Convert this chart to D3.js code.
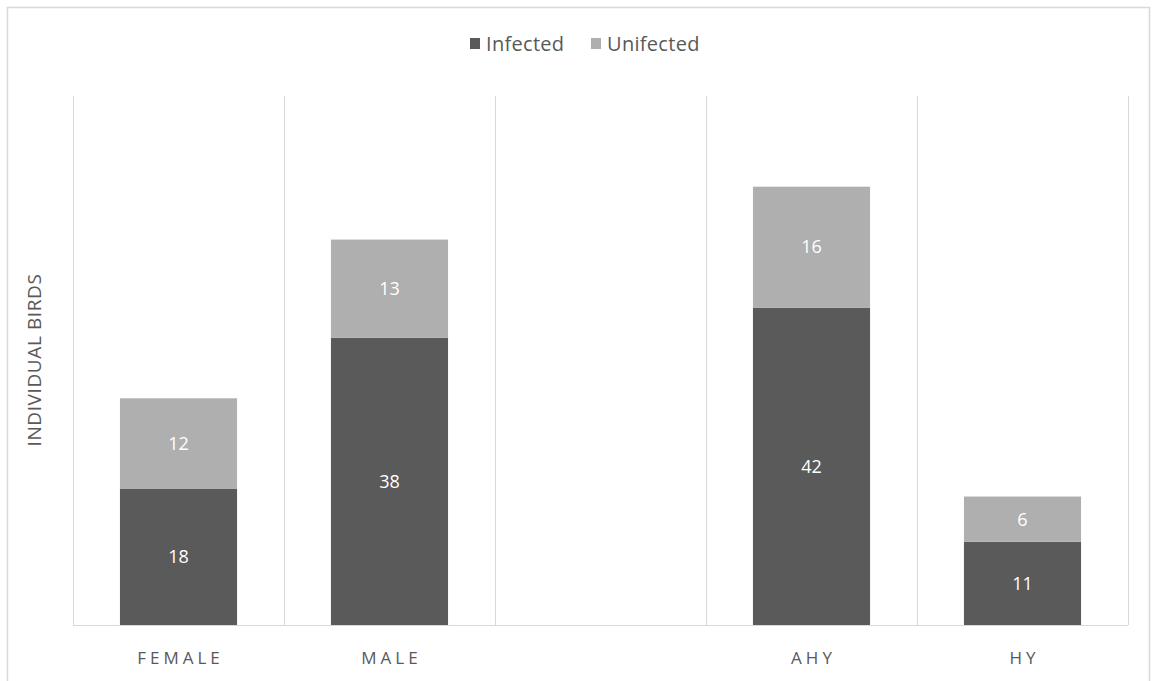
<!DOCTYPE html>
<html>
<head>
<meta charset="utf-8">
<script src="https://cdn.jsdelivr.net/npm/d3@7"></script>
<style>
  html, body { margin: 0; padding: 0; background: #fff; }
  svg { display: block; }
</style>
</head>
<body>
<svg id="chart" width="1153" height="681"></svg>
<script>
// Bird counts by sex and age class
const categories = ["FEMALE", "MALE", "", "AHY", "HY"];
const infected   = [18, 38, null, 42, 11];
const uninfected = [12, 13, null, 16, 6];
const seriesNames = ["Infected", "Unifected"];
const yTitle = "INDIVIDUAL BIRDS";

const colors = { Infected: "#5a5a5a", Unifected: "#afafaf" };
const textColor = "#595959";
const gridColor = "#d9d9d9";
const font = "'Open Sans', 'Noto Sans', sans-serif";

const svg = d3.select("#chart");
const W = 1153, H = 681;
const margin = { left: 73, right: 25, top: 96, bottom: 56 };

// chart frame
svg.append("rect")
  .attr("x", 7.5).attr("y", 7.5)
  .attr("width", W - 11).attr("height", H)
  .attr("fill", "#fff").attr("stroke", gridColor).attr("stroke-width", 1.5);

const x = d3.scaleBand()
  .domain(categories.map((c, i) => i))
  .range([margin.left, W - margin.right])
  .paddingInner(0.445).paddingOuter(0.2225);

const y = d3.scaleLinear().domain([0, 70]).range([H - margin.bottom, margin.top]);

// vertical gridlines at category boundaries
const step = x.step();
const bounds = d3.range(categories.length + 1).map(i => margin.left + i * step);
svg.append("g").selectAll("line").data(bounds).join("line")
  .attr("x1", d => Math.round(d) + 0.5).attr("x2", d => Math.round(d) + 0.5)
  .attr("y1", y(70)).attr("y2", y(0))
  .attr("stroke", gridColor).attr("stroke-width", 1);

// baseline
svg.append("line")
  .attr("x1", margin.left).attr("x2", W - margin.right)
  .attr("y1", y(0) + 0.5).attr("y2", y(0) + 0.5)
  .attr("stroke", gridColor).attr("stroke-width", 1.2);

// stacked data
const rows = categories.map((c, i) => ({ i, Infected: infected[i] || 0, Unifected: uninfected[i] || 0 }));
const stack = d3.stack().keys(seriesNames)(rows);

const layers = svg.append("g").selectAll("g").data(stack).join("g")
  .attr("fill", d => colors[d.key]);

layers.selectAll("rect").data(d => d.filter(p => p[1] > p[0])).join("rect")
  .attr("x", d => x(d.data.i))
  .attr("width", x.bandwidth())
  .attr("y", d => y(d[1]))
  .attr("height", d => y(d[0]) - y(d[1]));

layers.selectAll("text").data(d => d.filter(p => p[1] > p[0])).join("text")
  .attr("x", d => x(d.data.i) + x.bandwidth() / 2)
  .attr("y", d => (y(d[0]) + y(d[1])) / 2)
  .attr("dy", "0.35em")
  .attr("text-anchor", "middle")
  .attr("fill", "#fff")
  .attr("font-family", font)
  .attr("font-size", 18)
  .text(d => d[1] - d[0]);

// category labels
svg.append("g").selectAll("text").data(categories).join("text")
  .attr("x", (d, i) => x(i) + x.bandwidth() / 2 + 2)
  .attr("y", 664)
  .attr("text-anchor", "middle")
  .attr("fill", textColor)
  .attr("font-family", font)
  .attr("font-size", 17)
  .attr("letter-spacing", "4px")
  .text(d => d);

// y-axis title
svg.append("text")
  .attr("transform", "translate(34,360) rotate(-90)")
  .attr("text-anchor", "middle")
  .attr("dy", "0.35em")
  .attr("fill", textColor)
  .attr("font-family", font)
  .attr("font-size", 19)
  .attr("letter-spacing", "0.6px")
  .text(yTitle);

// legend
const legend = svg.append("g");
const legendItems = [
  { name: seriesNames[0], x: 470 },
  { name: seriesNames[1], x: 591 }
];
legendItems.forEach(it => {
  legend.append("rect")
    .attr("x", it.x).attr("y", 38).attr("width", 10).attr("height", 11)
    .attr("fill", colors[it.name]);
  legend.append("text")
    .attr("x", it.x + 16).attr("y", 44).attr("dy", "0.35em")
    .attr("fill", textColor)
    .attr("font-family", font)
    .attr("font-size", 20)
    .attr("letter-spacing", "0.3px")
    .text(it.name);
});
</script>
</body>
</html>
